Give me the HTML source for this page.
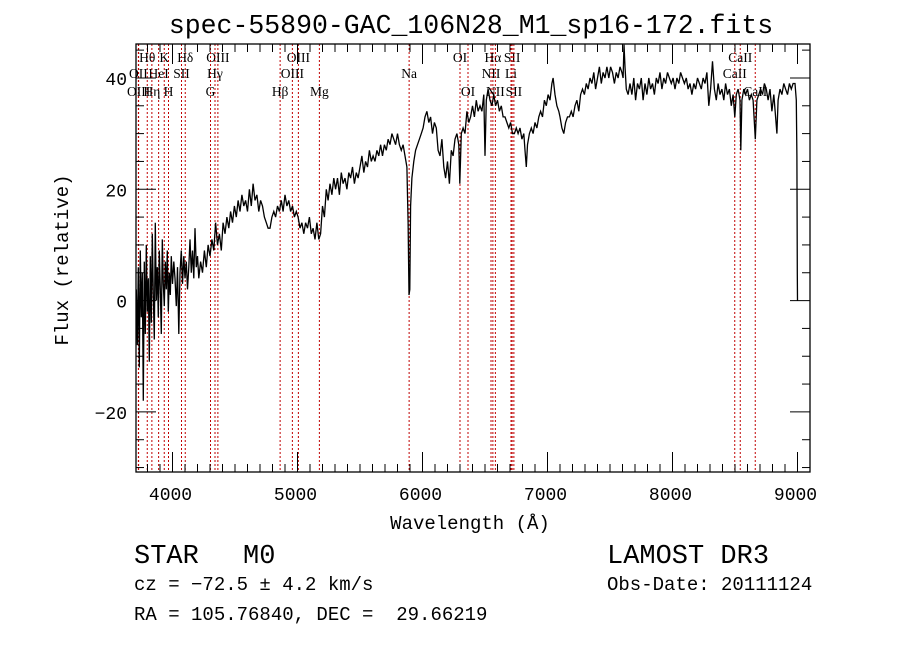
<!DOCTYPE html>
<html><head><meta charset="utf-8">
<style>
html,body{margin:0;padding:0;background:#fff;}
svg{display:block;}
text{fill:#000;}
.mono{font-family:"Liberation Mono","DejaVu Sans Mono",monospace;}
.ser{font-family:"Liberation Serif","DejaVu Serif",serif;}
</style></head>
<body>
<svg id="chart" width="900" height="649" viewBox="0 0 900 649" xmlns="http://www.w3.org/2000/svg">
<text class="mono" x="471" y="33" font-size="26.5" text-anchor="middle">spec-55890-GAC_106N28_M1_sp16-172.fits</text>
<g id="lines"></g>
<g id="series"></g>
<g id="axes"></g>
<text class="mono" x="470" y="529" font-size="19" text-anchor="middle">Wavelength (Å)</text>
<text class="mono" x="0" y="0" font-size="19" text-anchor="middle" transform="translate(68,260) rotate(-90)">Flux (relative)</text>
<text class="mono" x="134" y="563" font-size="27">STAR</text>
<text class="mono" x="243" y="563" font-size="27">M0</text>
<text class="mono" x="607" y="563" font-size="27">LAMOST DR3</text>
<text class="mono" x="134" y="590" font-size="19">cz = −72.5 ± 4.2 km/s</text>
<text class="mono" x="607" y="590" font-size="19">Obs-Date: 20111124</text>
<text class="mono" x="134" y="620" font-size="19">RA = 105.76840, DEC =&#160; 29.66219</text>
</svg>
<script>
const wave = [3710,3718,3726,3734,3742,3750,3758,3766,3774,3782,3790,3798,3806,3814,3822,3830,3838,3846,3854,3862,3870,3878,3886,3894,3902,3910,3918,3926,3934,3942,3950,3958,3966,3974,3982,3990,4000,4010,4020,4030,4040,4050,4060,4070,4080,4090,4100,4110,4120,4130,4140,4150,4160,4170,4180,4190,4200,4210,4225,4240,4255,4270,4285,4300,4315,4330,4345,4360,4375,4390,4405,4420,4435,4450,4465,4480,4495,4510,4525,4540,4555,4570,4585,4600,4615,4630,4645,4660,4675,4690,4705,4720,4735,4750,4765,4780,4795,4810,4825,4840,4855,4870,4885,4900,4915,4930,4945,4960,4975,4990,5005,5020,5035,5050,5065,5080,5095,5110,5125,5140,5155,5170,5185,5200,5215,5230,5245,5260,5275,5290,5305,5320,5335,5350,5365,5380,5395,5410,5425,5440,5455,5470,5485,5500,5515,5530,5545,5560,5575,5590,5605,5620,5635,5650,5665,5680,5695,5710,5725,5740,5755,5770,5785,5800,5815,5830,5845,5860,5875,5885,5892,5898,5905,5915,5930,5945,5960,5975,5990,6005,6020,6035,6050,6065,6080,6095,6110,6125,6140,6155,6170,6185,6200,6215,6230,6245,6260,6275,6290,6298,6310,6325,6340,6355,6370,6385,6400,6415,6430,6445,6460,6475,6490,6500,6510,6525,6540,6555,6570,6585,6600,6615,6630,6645,6660,6675,6690,6705,6720,6735,6750,6765,6780,6795,6810,6820,6830,6840,6855,6870,6885,6900,6915,6930,6945,6960,6975,6990,7005,7020,7035,7045,7060,7075,7090,7100,7115,7130,7145,7160,7175,7190,7205,7220,7235,7250,7265,7280,7295,7310,7325,7340,7355,7370,7385,7400,7415,7430,7445,7460,7475,7490,7505,7520,7535,7550,7565,7580,7595,7605,7612,7620,7630,7645,7660,7675,7690,7705,7720,7735,7750,7765,7780,7795,7810,7825,7840,7855,7870,7885,7900,7915,7930,7945,7960,7975,7990,8005,8020,8035,8050,8065,8080,8095,8110,8125,8140,8155,8170,8185,8200,8215,8230,8245,8260,8275,8290,8305,8320,8335,8350,8365,8380,8395,8410,8425,8440,8455,8470,8485,8498,8510,8525,8540,8546,8555,8570,8585,8600,8615,8630,8645,8662,8675,8690,8705,8720,8735,8750,8765,8780,8795,8810,8825,8835,8845,8860,8875,8890,8905,8920,8935,8950,8965,8980,8990,8995,8998,9000];
const flux = [2,-8,6,-12,9,-3,5,-18,7,-6,10,-2,4,-11,8,-4,12,1,-7,14,0,6,-3,9,2,-6,11,3,-1,7,2,9,-2,5,1,8,3,7,4,-1,6,-6,5,9,3,8,4,7,2,6,11,5,9,4,13,6,8,4,7,5,9,6,10,8,11,9,14,10,12,9,14,12,15,13,16,14,17,15,18,16,19,17,18,16,20,17,21,18,19,16,18,17,15,14,13,13,15,16,15,17,16,18,16,19,17,18,16,17,15,16,15,13,14,12,14,13,15,12,13,11,14,11,12,17,15,20,18,21,19,22,20,22,19,23,21,22,20,23,22,24,21,23,22,24,26,23,25,24,27,25,26,25,27,26,28,26,28,27,29,28,30,29,28,30,28,27,28,26,24,14,1,2,17,22,25,27,28,29,30,31,33,34,32,33,30,32,31,27,26,29,24,22,25,21,27,26,29,30,28,21,30,31,30,34,32,33,35,33,36,34,35,34,37,26,36,38,36,35,37,35,36,34,35,33,33,32,31,32,30,30,31,30,31,29,30,27,24,28,30,31,30,32,31,33,34,33,36,35,37,36,39,40,37,35,34,33,31,30,32,33,33,34,33,35,36,34,37,38,37,39,38,40,39,41,38,40,42,39,41,40,42,40,42,41,39,41,40,42,41,40,46,42,38,37,39,37,40,36,39,38,40,36,39,37,40,38,39,37,40,39,41,38,40,39,41,40,39,40,38,40,39,41,40,39,40,38,39,37,39,38,40,39,38,40,39,41,35,38,43,38,36,39,37,38,36,39,37,38,35,37,33,37,38,36,27,36,38,37,38,36,37,36,29,36,37,38,37,39,38,36,38,34,37,33,30,36,38,37,39,38,37,39,38,39,39,36,26,5,0];
const lineWaves = [3798,3934,4102,4363,5007,6300,6563,6717,8542,3727,3889,4072,4340,4959,5893,6548,6708,8498,3729,3835,3968,4304,4861,5175,6364,6583,6731,8662];
const lineLabels = ["Hθ","K","Hδ","OIII","OIII","OI","Hα","SII","CaII","OII","HeI","SII","Hγ","OIII","Na","NII","Li","CaII","OIII","Hη","H","G","Hβ","Mg","OI","NII","SII","CaII"];
const lineRows = [0,0,0,0,0,0,0,0,0,1,1,1,1,1,1,1,1,1,2,2,2,2,2,2,2,2,2,2];
const xTicks = [4000,5000,6000,7000,8000,9000];
const yTicks = [-20,0,20,40];

const X0=136,X1=810,Y0=44,Y1=472,XMIN=3708,XMAX=9100,YMIN=-30.8,YMAX=46.1;
const sx=v=>X0+(v-XMIN)/(XMAX-XMIN)*(X1-X0);
const sy=v=>Y1-(v-YMIN)/(YMAX-YMIN)*(Y1-Y0);
const NS="http://www.w3.org/2000/svg";
function mk(tag,attrs,parent){const e=document.createElementNS(NS,tag);for(const k in attrs)e.setAttribute(k,attrs[k]);parent.appendChild(e);return e;}

const gl=document.getElementById('lines');
const rowY=[62,78,96];
lineWaves.forEach((w,i)=>{
  const x=sx(w);
  const ln=mk('line',{x1:x,x2:x,y1:Y0,y2:Y1,stroke:'#c00000','stroke-width':1,'stroke-dasharray':'2,2'},gl);
  
  
  const t=mk('text',{x:x,y:rowY[lineRows[i]],'font-size':13.5,'text-anchor':'middle','class':'ser'},gl);
  t.textContent=lineLabels[i];
  
  
});

const gs=document.getElementById('series');
let d='';
wave.forEach((w,i)=>{d+=(i?'L':'M')+sx(w).toFixed(1)+','+sy(flux[i]).toFixed(1);});
const p=mk('path',{d:d,fill:'none',stroke:'#000','stroke-width':1.3,'stroke-linejoin':'miter'},gs);



const ga=document.getElementById('axes');
const fr=mk('rect',{x:X0,y:Y0,width:X1-X0,height:Y1-Y0,fill:'none',stroke:'#000','stroke-width':1.3},ga);


for(let w=3800;w<=9100;w+=100){
  const x=sx(w),major=(w%1000===0),len=major?20:8;
  mk('line',{x1:x,x2:x,y1:Y1,y2:Y1-len,stroke:'#000','stroke-width':1},ga);
  mk('line',{x1:x,x2:x,y1:Y0,y2:Y0+len,stroke:'#000','stroke-width':1},ga);
}
xTicks.forEach(v=>{
  const t=mk('text',{x:sx(v)-2,y:500,'font-size':18,'text-anchor':'middle','class':'mono'},ga);
  t.textContent=v;
  
  
});
for(let v=-30;v<=45;v+=5){
  const y=sy(v),major=(v%20===0),len=major?20:8;
  mk('line',{x1:X0,x2:X0+len,y1:y,y2:y,stroke:'#000','stroke-width':1},ga);
  mk('line',{x1:X1,x2:X1-len,y1:y,y2:y,stroke:'#000','stroke-width':1},ga);
}
yTicks.forEach(v=>{
  const t=mk('text',{x:127,y:sy(v)+7,'font-size':18,'text-anchor':'end','class':'mono'},ga);
  t.textContent=v<0?'−'+Math.abs(v):v;
  
  
});
</script>
</body></html>
